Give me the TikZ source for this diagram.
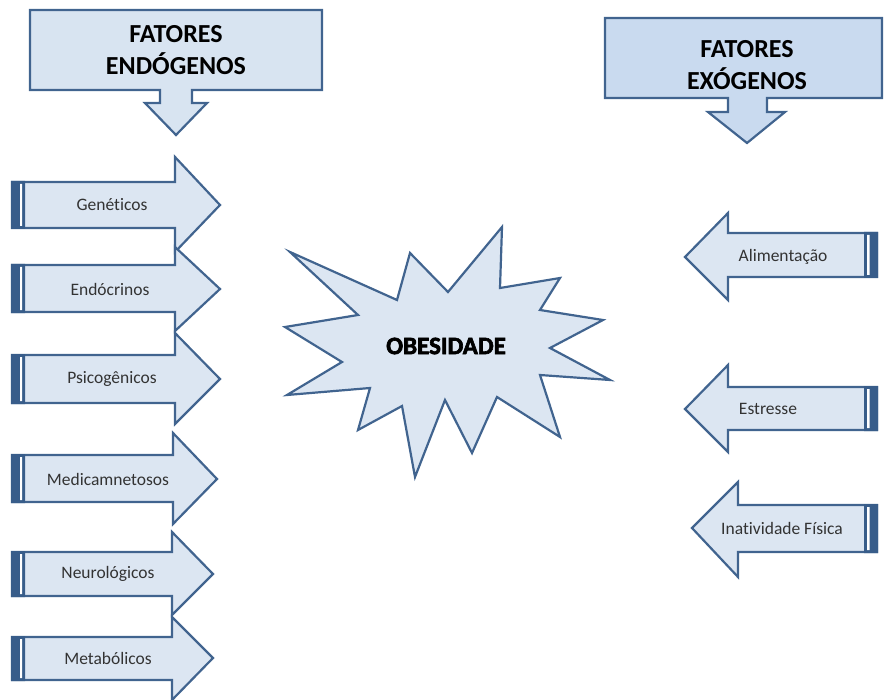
\documentclass[tikz,border=0pt]{standalone}
\usepackage{fontspec}
\setmainfont{Carlito}[Ligatures=NoCommon]
\newfontfamily\epais{Carlito Bold}[FakeBold=2.5]
\definecolor{bleuclair}{HTML}{DCE6F2}
\definecolor{bleucadre}{HTML}{C9DAEF}
\definecolor{bleufonce}{HTML}{41648F}
\definecolor{barre}{HTML}{385D8A}
\tikzset{pixel/.style={x={(1pt,0pt)},y={(0pt,-1pt)}}}
\tikzset{fleche/.style={fill=bleuclair, draw=bleufonce, line width=2.2pt, line join=miter},
	cadre/.style={fill=bleucadre, draw=bleufonce, line width=2.2pt, line join=miter},
	etiquette/.style={font=\fontsize{17.5}{20}\selectfont, text=black!80},
	titre/.style={font=\fontsize{26}{32}\selectfont\bfseries, align=center}}

\begin{document}
\begin{tikzpicture}[pixel]
	\useasboundingbox (0,0) rectangle (885,700);
	% cadres du haut
	\draw[cadre, fill=bleuclair!80!bleucadre] (30,10) -- (322,10) -- (322,90) -- (192,90) -- (192,103) -- (207,103) -- (176,135) -- (145,103) -- (160,103) -- (160,90) -- (30,90) -- cycle; % endogenos
	\draw[cadre] (605,18) -- (882,18) -- (882,98) -- (767,98) -- (767,112) -- (785,112) -- (747,143) -- (708,112) -- (728,112) -- (728,98) -- (605,98) -- cycle; % exogenos
	\node[titre] (endogenos) at (176,50) {FATORES\\ENDÓGENOS};
	\node[titre] (exogenos) at (747,65) {FATORES\\EXÓGENOS};
	% fleches de gauche
	\draw[fleche] (12,182) -- (175,182) -- (175,157) -- (220,205) -- (175,252) -- (175,228) -- (12,228) -- cycle;
	\draw[fleche] (12,265) -- (175,265) -- (175,247) -- (220,289) -- (175,331) -- (175,312) -- (12,312) -- cycle;
	\draw[fleche] (12,355) -- (175,355) -- (175,333) -- (220,379) -- (175,424) -- (175,403) -- (12,403) -- cycle;
	\draw[fleche] (12,455) -- (173,455) -- (173,433) -- (217,479) -- (173,524) -- (173,502) -- (12,502) -- cycle;
	\draw[fleche] (12,552) -- (172,552) -- (172,532) -- (213,574) -- (172,615) -- (172,596) -- (12,596) -- cycle;
	\draw[fleche] (12,637) -- (172,637) -- (172,617) -- (213,658) -- (172,700) -- (172,680) -- (12,680) -- cycle;
	\fill[barre] (11,181) rectangle (25,229) (11,264) rectangle (25,313) (11,354) rectangle (25,404);
	\fill[barre] (11,454) rectangle (25,503) (11,551) rectangle (25,597) (11,636) rectangle (25,681);
	\fill[white] (20,184) rectangle (22,226) (20,267) rectangle (22,310) (20,357) rectangle (22,401);
	\fill[white] (20,457) rectangle (22,500) (20,554) rectangle (22,594) (20,639) rectangle (22,678);
	\node[etiquette] (geneticos) at (112,205) {Genéticos};
	\node[etiquette] (endocrinos) at (110,289) {Endócrinos};
	\node[etiquette] (psicogenicos) at (112,379) {Psicogênicos};
	\node[etiquette] (medicamentosos) at (108,479) {Medicamnetosos};
	\node[etiquette] (neurologicos) at (108,574) {Neurológicos};
	\node[etiquette] (metabolicos) at (108,658) {Metabólicos};
	% fleches de droite
	\draw[fleche] (877,233) -- (728,233) -- (728,213) -- (685,257) -- (728,300) -- (728,277) -- (877,277) -- cycle;
	\draw[fleche] (877,387) -- (728,387) -- (728,365) -- (685,409) -- (728,452) -- (728,430) -- (877,430) -- cycle;
	\draw[fleche] (877,505) -- (738,505) -- (738,482) -- (692,528) -- (738,577) -- (738,552) -- (877,552) -- cycle;
	\fill[barre] (864,232) rectangle (878,278) (864,386) rectangle (878,431) (864,504) rectangle (878,553);
	\fill[white] (867,235) rectangle (869.5,275) (867,389) rectangle (869.5,428) (867,507) rectangle (869.5,550);
	\node[etiquette] (alimentacao) at (783,257) {Alimentação};
	\node[etiquette] (estresse) at (768,409) {Estresse};
	\node[etiquette] (inatividade) at (782,528) {Inatividade Física};
	% etoile du centre
	\draw[fleche] (290,252) -- (397,300) -- (410,253) -- (448,292) -- (502,227) -- (500,288) -- (560,278) -- (540,310) -- (603,320) -- (550,348) -- (610,380) -- (540,375) -- (560,437) -- (497,397) -- (472,453) -- (445,400) -- (415,477) -- (402,406) -- (358,430) -- (370,388) -- (287,395) -- (342,362) -- (285,327) -- (358,315) -- cycle;
	\node[font=\fontsize{25}{28}\selectfont\epais] (obesidade) at (446,346) {OBESIDADE};
\end{tikzpicture}
\end{document}
